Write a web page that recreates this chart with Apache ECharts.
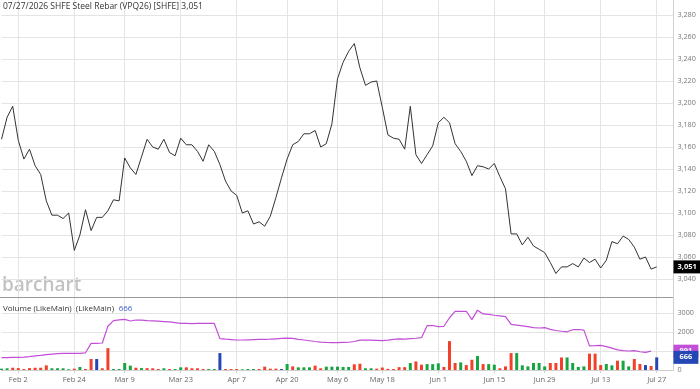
<!DOCTYPE html>
<html>
<head>
<meta charset="UTF-8">
<title>SHFE Steel Rebar</title>
<script src="https://cdn.jsdelivr.net/npm/echarts@6.0.0/dist/echarts.min.js"></script>
<style>
  html, body { margin: 0; padding: 0; background: #fff; }
  #main { width: 700px; height: 389px; }
</style>
</head>
<body>
<div id="main"></div>
<script>
// trading days (SHFE calendar, holidays skipped)
var tradingDays = [
  ['Jan', [28, 29, 30]],
  ['Feb', [2, 3, 4, 5, 6, 9, 10, 11, 12, 13, 24, 25, 26, 27]],
  ['Mar', [2, 3, 4, 5, 6, 9, 10, 11, 12, 13, 16, 17, 18, 19, 20, 23, 24, 25, 26, 27, 30, 31]],
  ['Apr', [1, 2, 3, 7, 8, 9, 10, 13, 14, 15, 16, 17, 20, 21, 22, 23, 24, 27, 28, 29, 30]],
  ['May', [6, 7, 8, 11, 12, 13, 14, 15, 18, 19, 20, 21, 22, 25, 26, 27, 28, 29]],
  ['Jun', [1, 2, 3, 4, 5, 8, 9, 10, 11, 12, 15, 16, 17, 18, 22, 23, 24, 25, 26, 29, 30]],
  ['Jul', [1, 2, 3, 6, 7, 8, 9, 10, 13, 14, 15, 16, 17, 20, 21, 22, 23, 24, 27]]
];

var tickLabels = ['Feb 2', 'Feb 24', 'Mar 9', 'Mar 23', 'Apr 7', 'Apr 20', 'May 6',
  'May 18', 'Jun 1', 'Jun 15', 'Jun 29', 'Jul 13', 'Jul 27'];

// closing price
var closes = [
  3167, 3187, 3197, 3166, 3149, 3158, 3143, 3135, 3111, 3098,
  3098, 3095, 3100, 3066, 3080, 3103, 3084, 3096, 3096, 3102,
  3112, 3111, 3150, 3141, 3135, 3151, 3167, 3160, 3158, 3167,
  3155, 3152, 3168, 3162, 3162, 3156, 3147, 3162, 3156, 3144,
  3129, 3120, 3116, 3100, 3102, 3090, 3092, 3088, 3097, 3114,
  3132, 3149, 3162, 3165, 3172, 3172, 3175, 3160, 3163, 3181,
  3222, 3237, 3247, 3254, 3232, 3216, 3219, 3220, 3196, 3171,
  3168, 3167, 3158, 3197, 3153, 3145, 3153, 3161, 3182, 3187,
  3182, 3163, 3156, 3147, 3134, 3143, 3142, 3140, 3145, 3133,
  3122, 3081, 3081, 3071, 3078, 3070, 3067, 3064, 3055, 3045,
  3051, 3051, 3054, 3051, 3059, 3055, 3058, 3050, 3057, 3074,
  3072, 3079, 3076, 3069, 3058, 3060, 3049, 3051
];

// volume bars
var volume = [
  70, 90, 120, 100, 50, 100, 120, 120, 245, 90,
  90, 90, 40, 70, 160, 50, 580, 580, 90, 1150,
  50, 50, 370, 230, 120, 100, 100, 90, 50, 90,
  50, 50, 140, 140, 90, 90, 50, 50, 50, 890,
  50, 50, 50, 35, 50, 50, 50, 175, 70, 70,
  50, 315, 190, 140, 140, 140, 230, 90, 175, 175,
  175, 160, 160, 300, 330, 90, 90, 70, 130, 60,
  50, 150, 150, 370, 450, 280, 310, 310, 350, 160,
  1520, 370, 400, 260, 540, 740, 310, 310, 280, 90,
  190, 890, 890, 245, 190, 370, 370, 190, 370, 370,
  660, 660, 370, 160, 190, 860, 860, 260, 315, 245,
  490, 490, 190, 580, 315, 260, 210, 666
];

// bar colour codes: g = green, r = red, n = blue
var volumeDir = (
  'ggrrrrrrrg' + 'gggrgrrnrr' + 'ggggrgrrrg' + 'rggrrrrggn' + 'rrrgggrrrr' +
  'ngrgggrrgg' + 'gggrrggrrr' + 'rrrgrrgggr' + 'rrgrrgrggr' + 'rrggggggrr' +
  'rggggrrrgg' + 'rggrrnrn'
).split('');

// LikeMain line
var likeMain = [
  650, 655, 660, 665, 680, 700, 740, 770, 810, 840,
  860, 870, 875, 875, 880, 905, 1400, 1400, 1420, 2300,
  2600, 2640, 2660, 2580, 2630, 2620, 2600, 2590, 2570, 2550,
  2530, 2490, 2450, 2450, 2440, 2450, 2450, 2450, 2450, 1650,
  1620, 1600, 1580, 1580, 1590, 1600, 1610, 1610, 1620, 1640,
  1660, 1680, 1660, 1610, 1580, 1540, 1500, 1470, 1450, 1440,
  1440, 1450, 1460, 1500, 1570, 1575, 1570, 1560, 1545, 1570,
  1610, 1640, 1620, 1650, 1670, 1700, 2330, 2340, 2280, 2300,
  2750, 3080, 3090, 3090, 2650, 3150, 2950, 2930, 2880, 2850,
  2810, 2400, 2360, 2320, 2280, 2230, 2210, 2230, 2140, 2080,
  2040, 2010, 2120, 2130, 2100, 1270, 1280, 1300, 1230, 1150,
  1060, 1020, 1000, 1020, 960, 930, 991, null
];

var lastClose = 3051;
var lastVolume = 666;
var lastLikeMain = 991;

var FONT = 'Open Sans';
var colors = { g: '#17a443', r: '#f3402a', n: '#2348b6' };

var dates = [];
tradingDays.forEach(function (m) {
  m[1].forEach(function (d) { dates.push(m[0] + ' ' + d); });
});
// empty slots on the right so the axis reaches the price scale
var cats = dates.concat([' ', '  ', '   ']);

function isTick(index) {
  return tickLabels.indexOf(cats[index]) >= 0;
}
function fmtThousands(v) {
  return String(Math.round(v)).replace(/\B(?=(\d{3})+(?!\d))/g, ',');
}

var myChart = echarts.init(document.getElementById('main'), null, { renderer: 'canvas' });

var option = {
  animation: false,
  backgroundColor: '#fff',
  textStyle: { fontFamily: FONT },
  title: [
    {
      text: '07/27/2026 SHFE Steel Rebar (VPQ26) [SHFE] 3,051',
      left: 3, top: 2, padding: 0,
      textStyle: { fontSize: 8.5, fontWeight: 'normal', color: '#333', fontFamily: FONT }
    },
    {
      text: '{a|Volume (LikeMain)  (LikeMain)} {b|666}',
      left: 3, top: 300, padding: 0,
      textStyle: {
        fontFamily: FONT, fontWeight: 'normal',
        rich: {
          a: { fontSize: 8, color: '#333', fontWeight: 'normal', fontFamily: FONT },
          b: { fontSize: 8, color: '#3a5cc6', fontWeight: 'normal', fontFamily: FONT }
        }
      }
    }
  ],
  graphic: [
    {
      type: 'text', left: 2, top: 276, z: 0, silent: true,
      style: { text: 'barchart', fontSize: 19, fontWeight: 600, fontFamily: FONT, fill: '#c2c2c2' }
    },
    {
      type: 'line', z: 10, silent: true,
      shape: { x1: 0, y1: 297.5, x2: 673, y2: 297.5 },
      style: { stroke: '#9a9a9a', lineWidth: 1 }
    }
  ],
  grid: [
    { left: 1.5, right: 26.5, top: 0, height: 301 },
    { left: 1.5, right: 26.5, top: 298, height: 72 }
  ],
  xAxis: [
    {
      type: 'category', gridIndex: 0, data: cats, boundaryGap: false,
      axisLine: { show: false }, axisTick: { show: false }, axisLabel: { show: false },
      splitLine: { show: true, interval: isTick, lineStyle: { color: '#e4e4e4', width: 1 } }
    },
    {
      type: 'category', gridIndex: 1, data: cats, boundaryGap: false,
      axisLine: { show: true, lineStyle: { color: '#cfcfcf' } },
      axisTick: { show: true, interval: isTick, length: 3, lineStyle: { color: '#cfcfcf' } },
      axisLabel: { interval: isTick, color: '#666', fontSize: 7.5, margin: 6, fontFamily: FONT },
      splitLine: { show: true, interval: isTick, lineStyle: { color: '#e4e4e4', width: 1 } }
    }
  ],
  yAxis: [
    {
      type: 'value', gridIndex: 0, position: 'right', scale: true,
      min: 3020, max: 3293.6, interval: 20,
      axisLine: { show: true, lineStyle: { color: '#d0d0d0' } },
      axisTick: { show: false },
      axisLabel: {
        color: '#777', fontSize: 7.2, margin: 4, fontFamily: FONT,
        showMinLabel: false, showMaxLabel: false,
        formatter: fmtThousands
      },
      splitLine: { show: true, showMinLine: false, showMaxLine: false, lineStyle: { color: '#e4e4e4' } }
    },
    {
      type: 'value', gridIndex: 1, position: 'right',
      min: 0, max: 3789, interval: 1000,
      axisLine: { show: true, lineStyle: { color: '#d0d0d0' } },
      axisTick: { show: false },
      axisLabel: {
        color: '#777', fontSize: 7.2, margin: 4, fontFamily: FONT, showMaxLabel: false,
        formatter: function (v) { return v === 1000 ? '' : String(v); }
      },
      splitLine: { show: true, showMaxLine: false, lineStyle: { color: '#e4e4e4' } }
    }
  ],
  series: [
    {
      name: 'Close', type: 'line', xAxisIndex: 0, yAxisIndex: 0,
      data: closes, symbol: 'none', z: 3,
      lineStyle: { color: '#333', width: 1 },
      markLine: {
        silent: true, symbol: 'none', z: 6,
        lineStyle: { color: 'transparent', width: 0 },
        label: {
          position: 'end', distance: 0, formatter: fmtThousands(lastClose),
          backgroundColor: '#000', color: '#fff', fontWeight: 'bold', fontSize: 7.5,
          fontFamily: FONT, padding: [3, 4, 2, 4]
        },
        data: [{ yAxis: lastClose }]
      }
    },
    {
      name: 'Volume', type: 'bar', xAxisIndex: 1, yAxisIndex: 1, barWidth: 3, z: 2,
      data: volume.map(function (v, i) {
        return { value: v, itemStyle: { color: colors[volumeDir[i]] } };
      }),
      markLine: {
        silent: true, symbol: 'none', z: 8,
        lineStyle: { color: 'transparent', width: 0 },
        label: {
          position: 'end', distance: 0, formatter: String(lastVolume),
          backgroundColor: colors.n, color: '#fff', fontWeight: 'bold', fontSize: 7.5,
          fontFamily: FONT, padding: [3, 6, 2, 6]
        },
        data: [{ yAxis: lastVolume }]
      }
    },
    {
      name: 'LikeMain', type: 'line', xAxisIndex: 1, yAxisIndex: 1,
      data: likeMain, symbol: 'none', z: 3,
      lineStyle: { color: '#c24fd8', width: 1.2 },
      markLine: {
        silent: true, symbol: 'none', z: 7,
        lineStyle: { color: 'transparent', width: 0 },
        label: {
          position: 'end', distance: 0, formatter: String(lastLikeMain),
          backgroundColor: '#c24fd8', color: '#fff', fontWeight: 'bold', fontSize: 7.5,
          fontFamily: FONT, padding: [3, 6, 2, 6]
        },
        data: [{ yAxis: lastLikeMain }]
      }
    }
  ]
};

myChart.setOption(option, true);
</script>
</body>
</html>
